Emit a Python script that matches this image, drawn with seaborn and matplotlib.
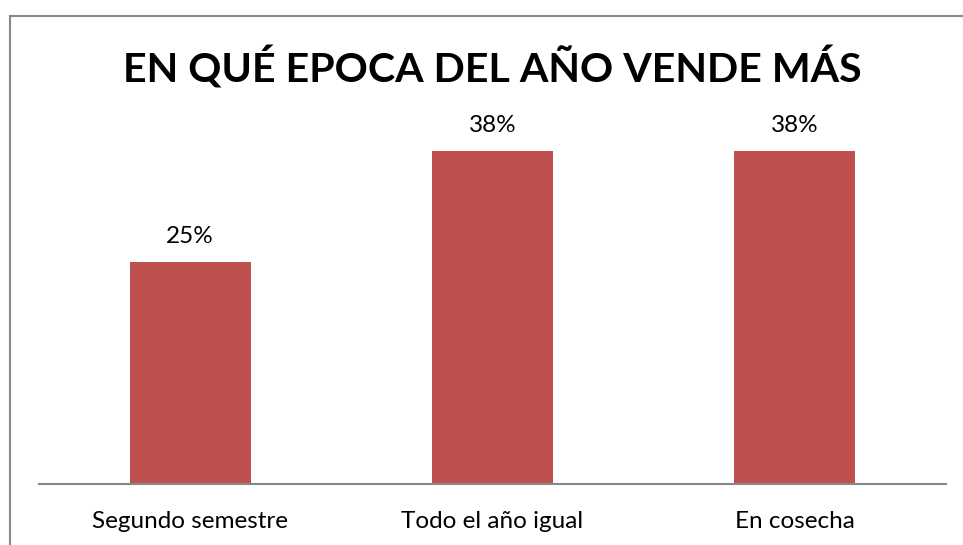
import matplotlib
matplotlib.use("Agg")
import matplotlib.pyplot as plt
import seaborn as sns
import pandas as pd
from matplotlib.patches import Rectangle

categories = ["Segundo semestre", "Todo el año igual", "En cosecha"]
values = [25.0, 37.5, 37.5]
value_labels = ["25%", "38%", "38%"]
title = "EN QUÉ EPOCA DEL AÑO VENDE MÁS"

sns.set_theme(style="white")
plt.rcParams['font.family'] = ['Lato', 'DejaVu Sans']

W, H = 963, 545
fig = plt.figure(figsize=(W / 100, H / 100), dpi=100)
fig.patch.set_facecolor("white")

# outer border of chart area (extends beyond right and bottom edges)
fig.patches.append(Rectangle((10 / W, -0.1), 1.2, 1 - 16 / H + 0.1, transform=fig.transFigure,
                             fill=False, edgecolor="#888888", linewidth=1.5))

ax_left, ax_right = 39 / W, 946 / W
ax_bottom = (H - 484) / H
ax_top = (H - 129) / H
ax = fig.add_axes([ax_left, ax_bottom, ax_right - ax_left, ax_top - ax_bottom])

df = pd.DataFrame({"cat": categories, "val": values})
sns.barplot(data=df, x="cat", y="val", color="#C0504D", saturation=1, width=0.4, ax=ax,
            edgecolor="none")
ax.set_xlim(-0.5, 2.5)
ax.set_ylim(0, 40)
ax.set_xlabel("")
ax.set_ylabel("")
ax.set_yticks([])
for s in ["top", "right", "left"]:
    ax.spines[s].set_visible(False)
ax.spines["bottom"].set_color("#888888")
ax.spines["bottom"].set_linewidth(1.5)
ax.tick_params(axis="x", length=0, pad=31.7, labelsize=17.5, labelcolor="black")
for t in ax.get_xticklabels():
    t.set_verticalalignment("baseline")
ax.patch.set_alpha(0)

for i, (v, lab) in enumerate(zip(values, value_labels)):
    ax.annotate(lab, (i, v), xytext=(0, 13.7), textcoords="offset points",
                ha="center", va="baseline", fontsize=17.5, color="black")

fig.text(492.5 / W, 1 - 82 / H, title, ha="center", va="baseline", fontsize=29.6,
         fontweight="bold", color="black")

fig.savefig("out.png", dpi=100)
